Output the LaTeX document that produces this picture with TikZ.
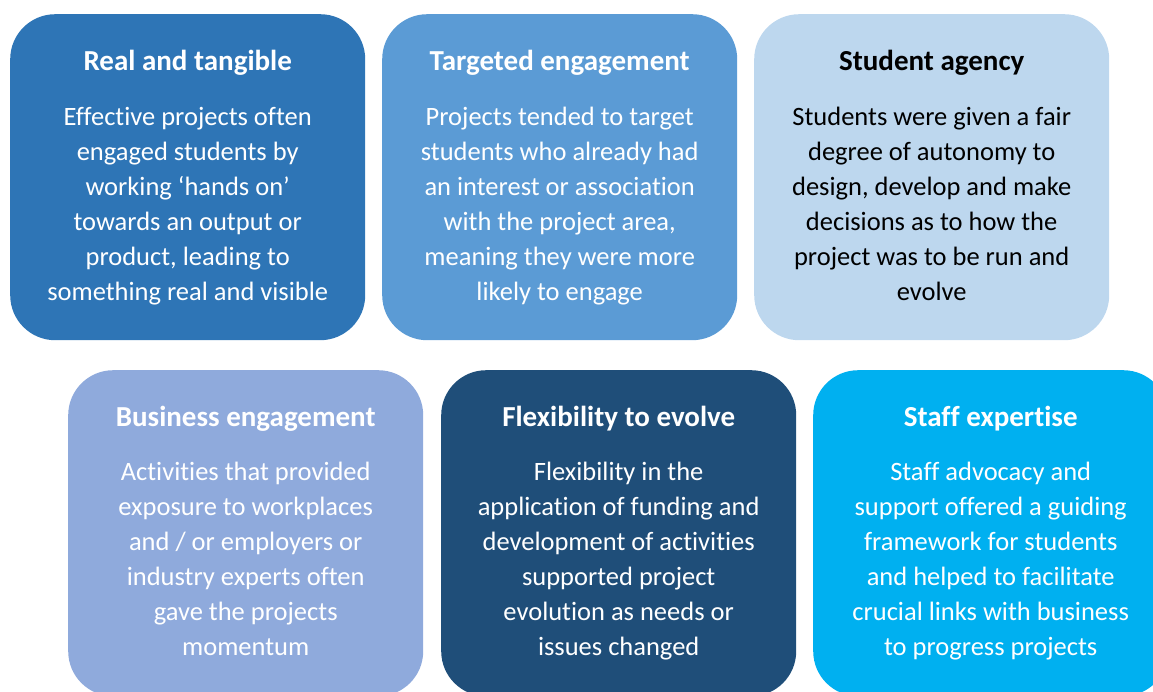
\documentclass[tikz,border=0pt]{standalone}
\usepackage{fontspec}
\setmainfont[Ligatures=NoCommon]{Carlito}
\definecolor{cA}{HTML}{2E75B6}
\definecolor{cB}{HTML}{5B9BD5}
\definecolor{cC}{HTML}{BDD7EE}
\definecolor{cD}{HTML}{8FAADC}
\definecolor{cE}{HTML}{1F4E79}
\definecolor{cF}{HTML}{00B0F0}
\newcommand{\bstrut}{\rule{0pt}{24.5pt}}
\tikzset{
  card/.style={rectangle, rounded corners=45pt, minimum width=355pt, minimum height=326pt, inner sep=0pt, anchor=north west, draw=none},
  ttl/.style={anchor=base, inner sep=0pt, font=\fontsize{29}{35}\selectfont\bfseries},
  body/.style={anchor=north, inner sep=0pt, align=center, font=\fontsize{26.5}{35}\selectfont}
}
\begin{document}
\begin{tikzpicture}[x=1pt,y=1pt]
\useasboundingbox (0,0) rectangle (1153,-691);
\clip (0,0) rectangle (1153,-691);
% row 1
\node[card, fill=cA] (b1) at (10,-14) {};
\node[card, fill=cB] (b2) at (382,-14) {};
\node[card, fill=cC] (b3) at (754,-14) {};
% row 2
\node[card, fill=cD] (b4) at (68,-370) {};
\node[card, fill=cE] (b5) at (441,-370) {};
\node[card, fill=cF] (b6) at (813,-370) {};
% titles
\node[ttl, text=white] (t1) at ([yshift=-56pt]b1.north) {Real and tangible};
\node[ttl, text=white] (t2) at ([yshift=-56pt]b2.north) {Targeted engagement};
\node[ttl, text=black] (t3) at ([yshift=-56pt]b3.north) {Student agency};
\node[ttl, text=white] (t4) at ([yshift=-56.5pt]b4.north) {Business engagement};
\node[ttl, text=white] (t5) at ([yshift=-56.5pt]b5.north) {Flexibility to evolve};
\node[ttl, text=white] (t6) at ([yshift=-56.5pt]b6.north) {Staff expertise};
% bodies
\node[body, text=white] (x1) at ([yshift=-87pt]b1.north) {\bstrut Effective projects often\\engaged students by\\working ‘hands on’\\towards an output or\\product, leading to\\something real and visible};
\node[body, text=white] (x2) at ([yshift=-87pt]b2.north) {\bstrut Projects tended to target\\students who already had\\an interest or association\\with the project area,\\meaning they were more\\likely to engage};
\node[body, text=black] (x3) at ([yshift=-87pt]b3.north) {\bstrut Students were given a fair\\degree of autonomy to\\design, develop and make\\decisions as to how the\\project was to be run and\\evolve};
\node[body, text=white] (x4) at ([yshift=-86pt]b4.north) {\bstrut Activities that provided\\exposure to workplaces\\and / or employers or\\industry experts often\\gave the projects\\momentum};
\node[body, text=white] (x5) at ([yshift=-86pt]b5.north) {\bstrut Flexibility in the\\application of funding and\\development of activities\\supported project\\evolution as needs or\\issues changed};
\node[body, text=white] (x6) at ([yshift=-86pt]b6.north) {\bstrut Staff advocacy and\\support offered a guiding\\framework for students\\and helped to facilitate\\crucial links with business\\to progress projects};
\end{tikzpicture}
\end{document}
